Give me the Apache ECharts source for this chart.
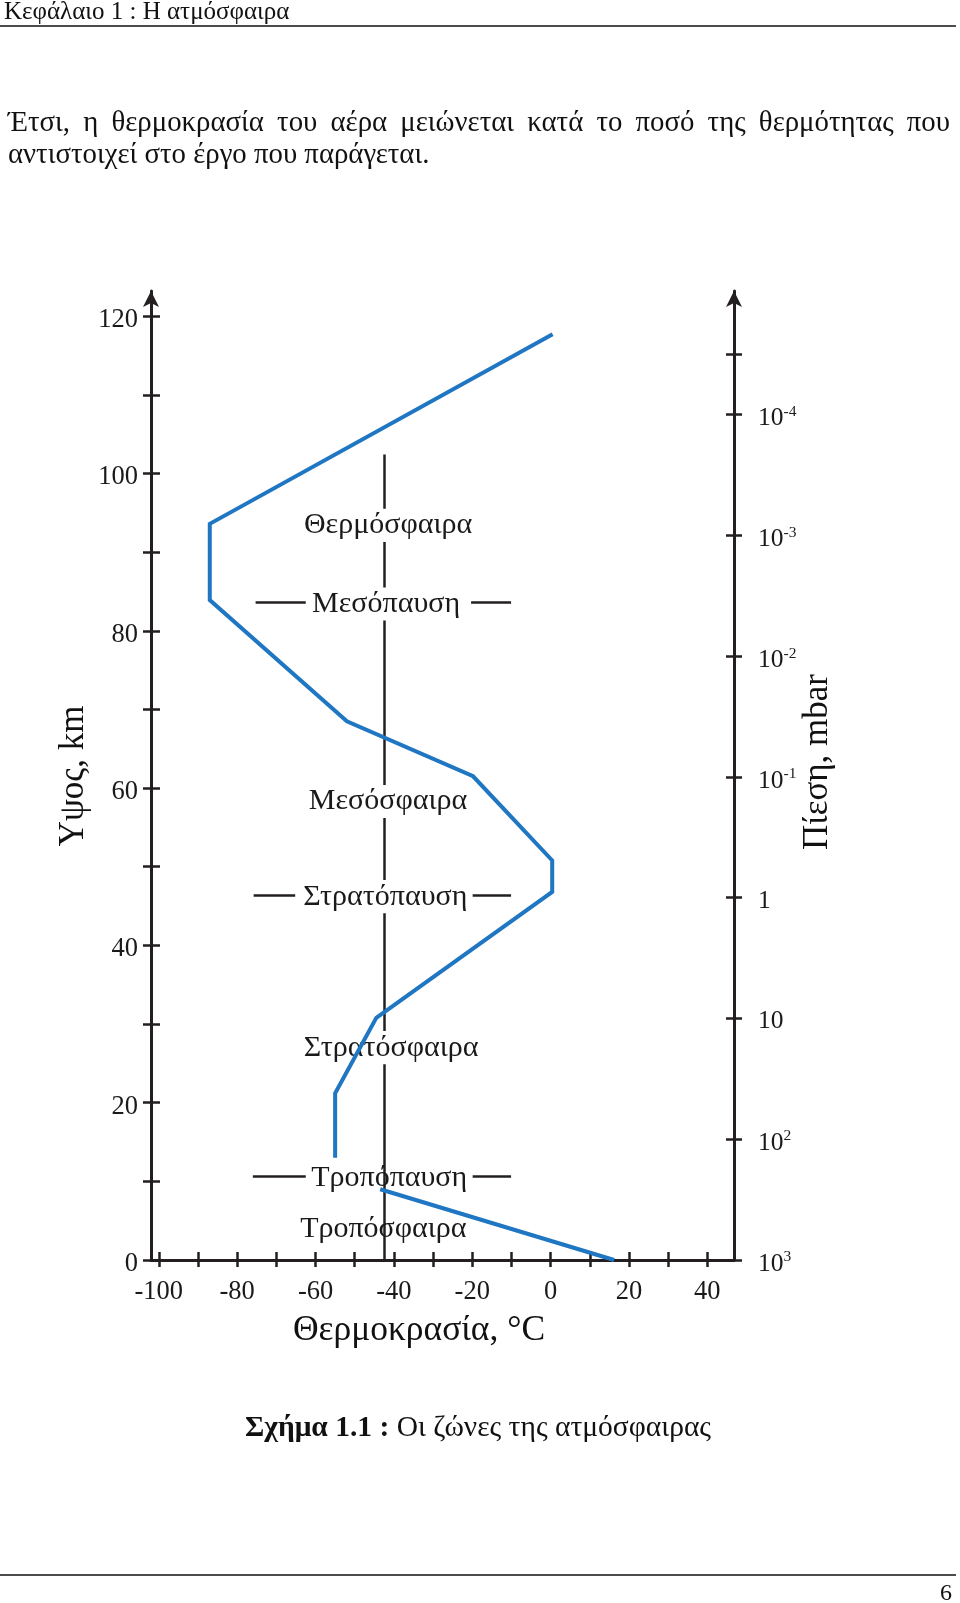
<!DOCTYPE html>
<html>
<head>
<meta charset="utf-8">
<style>
html,body{margin:0;padding:0;background:#fff;}
#c{width:960px;height:1603px;}
</style>
<script src="https://cdn.jsdelivr.net/npm/echarts@6/dist/echarts.min.js"></script>
</head>
<body>
<div id="c"></div>
<script>
// ---------- data ----------
const tempTicks = [-100,-90,-80,-70,-60,-50,-40,-30,-20,-10,0,10,20,30,40];
const tempLabels = [-100,-80,-60,-40,-20,0,20,40];
const heightTicks = [0,10,20,30,40,50,60,70,80,90,100,110,120];
const heightLabels = [0,20,40,60,80,100,120];
const pressureTickHeights = [0,15.4,30.8,46.1,61.4,76.7,92.1,107.5,115.2];
const pressureLabels = ['10^3','10^2','10','1','10^-1','10^-2','10^-3','10^-4',''];

// temperature profile (°C, km)
const upperTemp   = [0.5, -87, -87, -52, -19.8, 0.4, 0.4, -44.5, -55, -55];
const upperHeight = [117.7, 93.6, 83.9, 68.5, 61.5, 50.8, 46.8, 30.8, 21.2, 13.0];
const lowerTemp   = [-43.5, 16.2];
const lowerHeight = [9.0, 0];

// zone names
const zoneNames   = ['Θερμόσφαιρα','Μεσόπαυση','Μεσόσφαιρα','Στρατόπαυση','Στρατόσφαιρα','Τροπόπαυση','Τροπόσφαιρα'];
const zoneTemp    = [-41.5, -42, -41.5, -42.2, -40.7, -41.2, -42.7];
const zoneHeight  = [93.4, 83.4, 58.3, 46.2, 27.0, 10.4, 3.9];
const zoneHidesDivider = [true, true, true, true, true, false, false];

// pause marker dashes: height, [left dash], [right dash]
const pauseHeights = [83.6, 46.4, 10.6];
const pauseLeft    = [[-75.3,-62.5],[-75.8,-65.2],[-76,-62.5]];
const pauseRight   = [[-20.3,-10.1],[-19.9,-10.1],[-19.9,-10.1]];

// divider
const dividerTemp = -42.5;
const dividerTop = 102.4;

// texts
const headerText = 'Κεφάλαιο 1 : Η ατμόσφαιρα';
const paraLines = ['Έτσι, η θερμοκρασία του αέρα μειώνεται κατά το ποσό της θερμότητας που',
                   'αντιστοιχεί στο έργο που παράγεται.'];
const captionBold = 'Σχήμα 1.1 :';
const captionRest = ' Οι ζώνες της ατμόσφαιρας';
const pageNumber = '6';

// ---------- layout ----------
const FONT = '"Liberation Serif", "Times New Roman", serif';
const INK = '#231f20';
const BLUE = '#1f76c2';
const LABEL_HALF = 2.1; // km hidden around zone labels

const chart = echarts.init(document.getElementById('c'), null, {renderer:'canvas'});

const cv = document.createElement('canvas').getContext('2d');
function measure(t, size, weight){ cv.font = (weight||'normal') + ' ' + size + 'px ' + FONT; return cv.measureText(t).width; }

const graphics = [];
function txt(x, y, text, size, align, extra){
  return Object.assign({type:'text', x:x, y:y, style:{text:text, font:size+'px '+FONT, fill:'#111',
    textAlign:align, textVerticalAlign:'middle', align:align, verticalAlign:'middle'}}, extra||{});
}
// header
graphics.push(txt(4, 12, headerText, 25, 'left'));
graphics.push({type:'line', shape:{x1:0,y1:26,x2:956,y2:26}, style:{stroke:'#111', lineWidth:1.5}});
// paragraph, first line justified
(function(){
  const size = 28.8;
  const words = paraLines[0].split(' ');
  const widths = words.map(w=>measure(w,size));
  const total = 950 - 8;
  const gap = (total - widths.reduce((a,b)=>a+b,0)) / (words.length-1);
  let x = 8;
  words.forEach((w,i)=>{
    graphics.push(txt(x, 123, w, size, 'left'));
    x += widths[i] + gap;
  });
  graphics.push(txt(8, 155, paraLines[1], size, 'left'));
})();
// axis names
graphics.push(txt(74, 776, 'Υψος, km', 35, 'center', {rotation:Math.PI/2}));
graphics.push(txt(818, 762, 'Πίεση, mbar', 35, 'center', {rotation:Math.PI/2}));
graphics.push(txt(419, 1331, 'Θερμοκρασία, °C', 35.5, 'center'));
// caption
graphics.push({type:'text', x:478, y:1428, style:{text:'{b|'+captionBold+'}{r|'+captionRest+'}', textAlign:'center', textVerticalAlign:'middle', align:'center', verticalAlign:'middle',
  rich:{b:{fill:'#111', fontSize:29.5, fontWeight:'bold', fontFamily:FONT}, r:{fill:'#111', fontSize:29.5, fontFamily:FONT}}}});
// footer
graphics.push({type:'line', shape:{x1:0,y1:1575,x2:956,y2:1575}, style:{stroke:'#111', lineWidth:1.5}});
graphics.push(txt(952, 1594, pageNumber, 24, 'right'));

const X_MIN = -102, X_MAX = 46.8, Y_MIN = 0, Y_MAX = 123.2;
const tickStyle = {color:INK, width:2.5};
const labelBase = {color:'#1a1a1a', fontFamily:FONT, fontSize:26.5};

function pressureFmt(v){
  const i = pressureTickHeights.indexOf(v);
  if (i<0) return '';
  const s = pressureLabels[i];
  if (!s) return '';
  const parts = s.split('^');
  if (parts.length===1) return '{b|'+parts[0]+'}';
  return '{b|'+parts[0]+'}{s|'+parts[1]+'}';
}

// marker segments
const segData = [];
pauseHeights.forEach((h,i)=>{
  segData.push({coords:[[pauseLeft[i][0],h],[pauseLeft[i][1],h]]});
  segData.push({coords:[[pauseRight[i][0],h],[pauseRight[i][1],h]]});
});
// divider broken behind the zone labels that hide it
(function(){
  const gaps = zoneHeight.map((h,i)=>zoneHidesDivider[i] ? [h-LABEL_HALF, h+LABEL_HALF] : null).filter(Boolean).sort((a,b)=>b[0]-a[0]);
  let top = dividerTop;
  gaps.forEach(g=>{ segData.push({coords:[[dividerTemp, top],[dividerTemp, g[1]]]}); top = g[0]; });
  segData.push({coords:[[dividerTemp, top],[dividerTemp, 0]]});
})();

const option = {
  backgroundColor:'#fff',
  animation:false,
  grid:{left:151, top:291, width:583, height:969, containLabel:false},
  xAxis:[
    {type:'value', min:X_MIN, max:X_MAX, position:'bottom',
     axisLine:{show:true, onZero:false, lineStyle:{color:INK, width:3}},
     axisTick:{show:true, customValues:tempTicks, length:7, inside:false, lineStyle:tickStyle},
     axisLabel:{show:true, customValues:tempLabels, margin:19, ...labelBase},
     splitLine:{show:false}},
    {type:'value', min:X_MIN, max:X_MAX, position:'bottom',
     axisLine:{show:false, onZero:false},
     axisTick:{show:true, customValues:tempTicks, length:8, inside:true, lineStyle:tickStyle},
     axisLabel:{show:false}, splitLine:{show:false}}
  ],
  yAxis:[
    {type:'value', min:Y_MIN, max:Y_MAX, position:'left',
     axisLine:{show:true, onZero:false, symbol:['none','arrow'], symbolSize:[12,16], lineStyle:{color:INK, width:3}},
     axisTick:{show:true, customValues:heightTicks, length:8, inside:false, lineStyle:tickStyle},
     axisLabel:{show:true, customValues:heightLabels, margin:13, padding:[8,0,0,0],
       formatter:function(v){ return '{a|'+v+'}'; },
       rich:{a:{fontFamily:FONT, fontSize:26.5, color:'#1a1a1a', lineHeight:30}}},
     splitLine:{show:false}},
    {type:'value', min:Y_MIN, max:Y_MAX, position:'left',
     axisLine:{show:false, onZero:false},
     axisTick:{show:true, customValues:heightTicks, length:9, inside:true, lineStyle:tickStyle},
     axisLabel:{show:false}, splitLine:{show:false}},
    {type:'value', min:Y_MIN, max:Y_MAX, position:'right',
     axisLine:{show:true, onZero:false, symbol:['none','arrow'], symbolSize:[12,16], lineStyle:{color:INK, width:3}},
     axisTick:{show:true, customValues:pressureTickHeights, length:8, inside:false, lineStyle:tickStyle},
     axisLabel:{show:true, customValues:pressureTickHeights.slice(0,8), margin:24, padding:[8,0,0,0], formatter:pressureFmt,
       rich:{b:{fontFamily:FONT, fontSize:25.5, color:'#1a1a1a', lineHeight:30},
             s:{fontFamily:FONT, fontSize:15.5, color:'#1a1a1a', verticalAlign:'top', lineHeight:30, padding:[0,0,8,0]}}},
     splitLine:{show:false}},
    {type:'value', min:Y_MIN, max:Y_MAX, position:'right',
     axisLine:{show:false, onZero:false},
     axisTick:{show:true, customValues:pressureTickHeights, length:8, inside:true, lineStyle:tickStyle},
     axisLabel:{show:false}, splitLine:{show:false}}
  ],
  series:[
    {type:'lines', coordinateSystem:'cartesian2d', xAxisIndex:0, yAxisIndex:0, z:1, silent:true,
     lineStyle:{color:INK, width:2.5, opacity:1}, data:segData},
    {type:'scatter', xAxisIndex:0, yAxisIndex:0, z:2, symbolSize:0, silent:true,
     itemStyle:{opacity:1},
     data: zoneNames.map((n,i)=>({name:n, value:[zoneTemp[i], zoneHeight[i]],
        label:{show:true, position:'inside', formatter:n, fontFamily:FONT, fontSize:30, color:'#1a1a1a', opacity:1}}))},
    {type:'line', xAxisIndex:0, yAxisIndex:0, z:3, symbol:'none', silent:true,
     lineStyle:{color:BLUE, width:4, join:'miter'},
     data: upperTemp.map((t,i)=>[t, upperHeight[i]])},
    {type:'line', xAxisIndex:0, yAxisIndex:0, z:3, symbol:'none', silent:true,
     lineStyle:{color:BLUE, width:4, join:'miter'},
     data: lowerTemp.map((t,i)=>[t, lowerHeight[i]])}
  ],
  graphic: graphics
};
chart.setOption(option);
</script>
</body>
</html>
